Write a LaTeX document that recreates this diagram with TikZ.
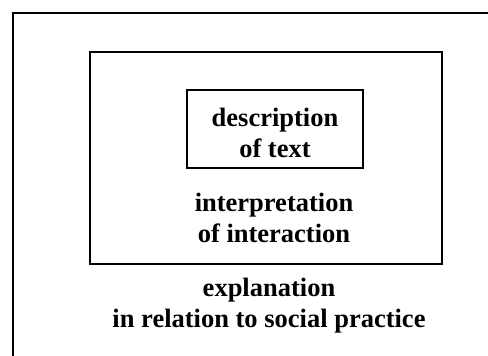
\documentclass[tikz,border=0pt]{standalone}
\usepackage{fontspec}
\setmainfont{Liberation Serif}
\tikzset{
    levelbox/.style={draw, line width=1.3pt, inner sep=0pt},
    leveltext/.style={align=center, font=\fontsize{26.5}{31}\selectfont\bfseries, inner sep=0pt}
}
\begin{document}
\begin{tikzpicture}[x=1pt,y=-1pt]
    \useasboundingbox (0,0) rectangle (488,356);
    %% outer frame, cut off at right and bottom
    \coordinate (outerTR) at (488,13);
    \coordinate (outerTL) at (13,13);
    \coordinate (outerBL) at (13,356);
    \draw[line width=1.3pt] (outerTR) -- (outerTL) -- (outerBL);
    %% the three levels
    \node[levelbox, minimum width=352pt, minimum height=212pt] (interbox) at (266,158) {};
    \node[levelbox, minimum width=176pt, minimum height=78pt] (descbox) at (275,129) {};
    \node[leveltext] (desc) at (275,133) {description\\of text};
    \node[leveltext] (inter) at (274,218) {interpretation\\of interaction};
    \node[leveltext] (expl) at (269,306) {explanation\\in relation to social practice};
\end{tikzpicture}
\end{document}
